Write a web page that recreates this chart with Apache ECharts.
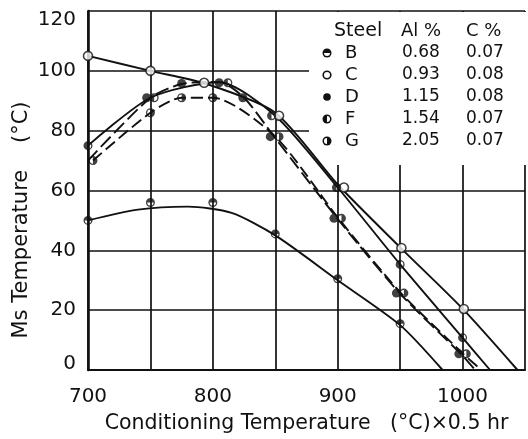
<!DOCTYPE html>
<html>
<head>
<meta charset="utf-8">
<script src="https://cdn.jsdelivr.net/npm/echarts@6/dist/echarts.min.js"></script>
<style>
  html, body { margin: 0; padding: 0; background: #fff; }
  #chart { width: 528px; height: 439px; }
</style>
</head>
<body>
<div id="chart"></div>
<script>
// table in the upper right corner
const steels = ['B', 'C', 'D', 'F', 'G']
const alPct = ['0.68', '0.93', '1.15', '1.54', '2.05']
const cPct = ['0.07', '0.08', '0.08', '0.07', '0.07']

const xTicks = [700, 800, 900, 1000]
const yTicks = [0, 20, 40, 60, 80, 100, 120]

// measured points, [conditioning temp, Ms]
const pointsB = [[700, 50], [750, 56], [800, 56], [850, 45.5], [900, 30.5], [950, 15.5]]
const pointsC = [[700, 105], [750, 100], [793, 96], [853, 85], [905, 61], [951, 40.8], [1001, 20.4]]
const pointsD = [[698, 70], [747, 91], [775, 95.8], [805, 96], [824, 91], [846, 78], [897, 50.7], [947, 25.7], [997, 5.4]]
const pointsF = [[700, 75], [753, 91], [812, 96], [847, 85], [899, 61], [950, 35.3], [1000, 10.8]]
const pointsG = [[704, 70], [750, 86], [775, 91], [800, 91], [853, 78], [903, 50.7], [953, 25.7], [1003, 5.4]]

// hand drawn curves through them
const curveB = [[700, 50], [740, 53.6], [780, 54.6], [815, 52.5], [850, 45], [900, 30], [950, 15], [984, 0]]
const curveC = [[700, 105], [750, 100], [795, 95.6], [850, 86], [900, 62], [950, 41], [1000, 20.5], [1044, 0]]
const curveD = [[700, 70], [750, 91], [775, 95.6], [805, 96.3], [825, 91], [850, 77.5], [900, 50.5], [950, 25.5], [1000, 4.8], [1010, 0]]
const curveF = [[700, 75], [750, 91], [805, 96.2], [850, 85], [900, 61], [950, 35.3], [1000, 10.8], [1022, 0]]
const curveG = [[704, 70], [750, 86], [775, 91], [800, 91], [850, 78], [900, 51], [950, 26], [1000, 5.6], [1015, 0]]

const ink = '#111'
const font = 'DejaVu Sans'

// half filled circles: full disc with the empty half cut out
const halfIcons = {
  top: 'M0,10 A10,10 0 1,1 20,10 A10,10 0 1,1 0,10 Z M17,10 L3,10 A7,7 0 0,0 17,10 Z',
  left: 'M0,10 A10,10 0 1,1 20,10 A10,10 0 1,1 0,10 Z M10,3 L10,17 A7,7 0 0,0 10,3 Z',
  right: 'M0,10 A10,10 0 1,1 20,10 A10,10 0 1,1 0,10 Z M10,17 L10,3 A7,7 0 0,0 10,17 Z',
}

// empty half as a sector, for the table icons
const markers = {
  B: { kind: 'half', path: halfIcons.top, gap: [0, Math.PI] },
  C: { kind: 'open' },
  D: { kind: 'filled' },
  F: { kind: 'half', path: halfIcons.left, gap: [-Math.PI / 2, Math.PI / 2] },
  G: { kind: 'half', path: halfIcons.right, gap: [Math.PI / 2, Math.PI * 1.5] },
}

function symbolOf(name) {
  const m = markers[name]
  if (m.kind === 'half') return { symbol: 'path://' + m.path, itemStyle: { color: ink, borderWidth: 0 } }
  if (m.kind === 'open') return { symbol: 'circle', itemStyle: { color: '#fff', borderColor: ink, borderWidth: 1.6 } }
  return { symbol: 'circle', itemStyle: { color: ink, borderWidth: 0 } }
}

function curveSeries(data, dash) {
  return {
    type: 'line',
    data,
    smooth: 0.25,
    showSymbol: false,
    silent: true,
    z: 2,
    lineStyle: { color: ink, width: 1.9, type: dash || 'solid' },
  }
}

function pointSeries(name, data) {
  const s = symbolOf(name)
  return {
    name,
    type: 'scatter',
    data,
    symbol: s.symbol,
    symbolSize: 9,
    itemStyle: s.itemStyle,
    z: 4,
  }
}

function legendMarker(name, cx, cy) {
  const m = markers[name]
  if (m.kind === 'half') {
    return [
      { type: 'circle', z: 1, shape: { cx, cy, r: 4.5 }, style: { fill: ink } },
      { type: 'sector', z: 1, shape: { cx, cy, r0: 0, r: 3, startAngle: m.gap[0], endAngle: m.gap[1] }, style: { fill: '#fff' } },
    ]
  }
  return [{
    type: 'circle', z: 1,
    shape: { cx, cy, r: 3.8 },
    style: m.kind === 'open' ? { fill: '#fff', stroke: ink, lineWidth: 1.6 } : { fill: ink },
  }]
}

function label(text, x, y, size) {
  return {
    type: 'text', z: 1, x, y,
    style: { text, fill: ink, fontSize: size || 17, fontFamily: font, textAlign: 'left', textVerticalAlign: 'middle', align: 'left', verticalAlign: 'middle' },
  }
}

const table = [
  { type: 'rect', z: 1, shape: { x: 309, y: 12, width: 230, height: 153 }, style: { fill: '#fff' } },
  label('Steel', 334, 31, 19),
  label('Al %', 401, 31, 18),
  label('C %', 466, 31, 18),
]
steels.forEach((s, i) => {
  const y = 53 + i * 22
  table.push(...legendMarker(s, 327, y))
  table.push(label(s, 345, y, 18))
  table.push(label(alPct[i], 402, y))
  table.push(label(cPct[i], 466, y))
})

table.push({
  type: 'text', z: 1, x: 22, y: 220, rotation: Math.PI / 2,
  style: {
    text: 'Ms Temperature    (°C)', fill: ink, fontSize: 21, fontFamily: font,
    textAlign: 'center', textVerticalAlign: 'middle', align: 'center', verticalAlign: 'middle',
  },
})

const chart = echarts.init(document.getElementById('chart'), null, { renderer: 'canvas' })
chart.setOption({
  backgroundColor: '#fff',
  animation: false,
  grid: { left: 88, right: -4, top: 11, bottom: 66, containLabel: false },
  xAxis: {
    type: 'value',
    min: 700,
    max: 1050,
    interval: 50,
    name: 'Conditioning Temperature   (°C)×0.5 hr',
    nameLocation: 'middle',
    nameGap: 43,
    nameTextStyle: { color: ink, fontSize: 20.5, fontFamily: font, verticalAlign: 'top' },
    axisLine: { lineStyle: { color: ink, width: 2.2 } },
    axisTick: { show: false },
    axisLabel: {
      color: ink, fontSize: 20, fontFamily: font, margin: 17,
      formatter: v => (xTicks.includes(v) ? String(v) : ''),
    },
    splitLine: { lineStyle: { color: ink, width: 1.7 } },
  },
  yAxis: {
    type: 'value',
    min: 0,
    max: 120,
    interval: 20,
    axisLine: { show: true, lineStyle: { color: ink, width: 2.6 } },
    axisTick: { show: false },
    axisLabel: {
      color: ink, fontSize: 20, fontFamily: font, margin: 12,
      formatter: v => {
        if (!yTicks.includes(v)) return ''
        if (v === 0) return '{lo|0}'
        if (v === 120) return '{hi|120}'
        return String(v)
      },
      rich: {
        lo: { fontSize: 20, fontFamily: font, color: ink, padding: [0, 0, 13, 0] },
        hi: { fontSize: 20, fontFamily: font, color: ink, padding: [18, 0, 0, 0] },
      },
    },
    splitLine: { lineStyle: { color: ink, width: 1.7 } },
  },
  graphic: { elements: table },
  series: [
    curveSeries(curveB),
    curveSeries(curveC),
    curveSeries(curveD, [14, 5]),
    curveSeries(curveF),
    curveSeries(curveG, [12, 5]),
    pointSeries('B', pointsB),
    pointSeries('C', pointsC),
    pointSeries('D', pointsD),
    pointSeries('F', pointsF),
    pointSeries('G', pointsG),
  ],
})
</script>
</body>
</html>
